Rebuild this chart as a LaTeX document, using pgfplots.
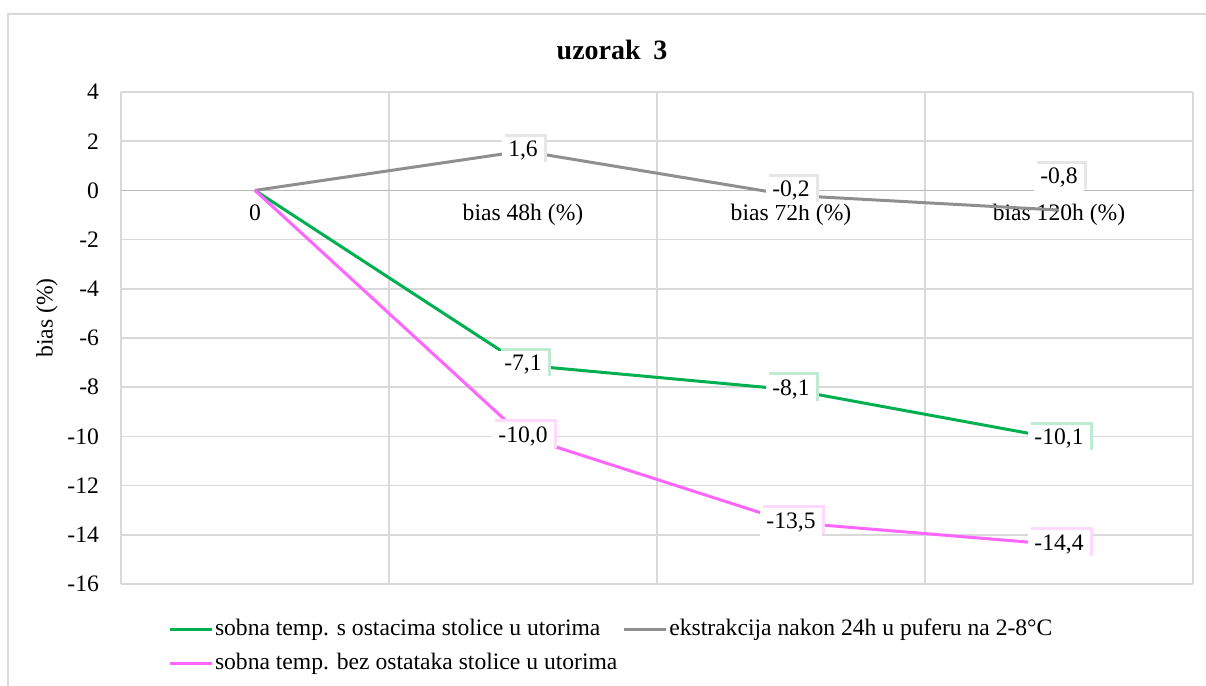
\documentclass[border=0pt]{standalone}
\usepackage{fontspec}
\setmainfont{Liberation Serif}
\usepackage{pgfplots}
\pgfplotsset{compat=1.18}
\usepackage{pgfplotstable}
\usetikzlibrary{shadows}
\definecolor{cgreen}{HTML}{00B050}
\definecolor{cgray}{HTML}{8F8F8F}
\definecolor{cpink}{HTML}{FF66FF}
\definecolor{cgrid}{HTML}{D9D9D9}

\pgfplotstableread{
x y dy
0 0 0
1 -7.1 0
2 -8.1 0
3 -10.1 0
}\greendata
\pgfplotstableread{
x y dy
0 0 0
1 1.6 0
2 -0.2 2.2
3 -0.8 16
}\graydata
\pgfplotstableread{
x y dy
0 0 0
1 -10.0 0
2 -13.5 0
3 -14.4 0
}\pinkdata

\newcommand\tw{\fontsize{11.8}{14}\selectfont}

\pgfplotsset{
  lab/.style={
    draw=none, mark=none, forget plot,
    skip coords between index={0}{1},
    visualization depends on={\thisrow{dy} \as \ldy},
    point meta=y,
    nodes near coords={\pgfmathprintnumber[fixed,fixed zerofill,precision=1,use comma]{\pgfplotspointmeta}},
    every node near coord/.style={anchor=center, yshift=\ldy pt, fill=white, font=\tw,
      inner xsep=3pt, inner ysep=2pt, text height=8pt, text depth=2.2pt,
      drop shadow={shadow xshift=1.5pt, shadow yshift=1.5pt, fill=#1, opacity=1}},
  }
}

\begin{document}
\begin{tikzpicture}
\useasboundingbox (0,0) rectangle (603pt,-343pt);
\draw[cgrid, line width=0.8pt] (4pt,-400pt) -- (4pt,-7pt) -- (700pt,-7pt);
\node[font=\fontsize{14}{16}\selectfont\bfseries] at (306pt,-25pt) {uzorak\hspace{0.45em}3};
\node[rotate=90, font=\tw] at (23.5pt,-159pt) {bias (\%)};
\begin{axis}[
  at={(60.5pt,-46pt)}, anchor=north west,
  width=536pt, height=246pt, scale only axis,
  xmin=-0.5, xmax=3.5, ymin=-16, ymax=4,
  axis x line=middle, axis y line=left, separate axis lines,
  x axis line style={-, draw=gray!55, line width=0.8pt},
  y axis line style={draw=none},
  xtick={0,1,2,3},
  xticklabels={0, bias 48h (\%), bias 72h (\%), bias 120h (\%)},
  minor xtick={-0.5,0.5,1.5,2.5,3.5},
  ytick={-16,-14,...,4},
  xminorgrids=true, ymajorgrids=true, xmajorgrids=false,
  grid style={cgrid, line width=0.8pt},
  minor grid style={cgrid, line width=0.8pt},
  major tick length=0pt, minor tick length=0pt,
  tick label style={font=\tw},
  /pgf/number format/assume math mode=true,
  xticklabel style={anchor=north, yshift=-3.5pt},
  yticklabel style={anchor=east, xshift=-7.5pt},
  legend columns=2,
  legend cell align=left,
  legend style={at={(rel axis cs:0,0)}, anchor=north west, xshift=23.5pt, yshift=-15.5pt,
    draw=none, fill=none, inner sep=0pt, outer sep=0pt, font=\tw,
    nodes={inner sep=1pt, text height=9pt, text depth=3pt},
    /tikz/every even column/.append style={column sep=10pt}, row sep=3pt},
  legend image code/.code={\draw[#1] (0pt,0pt) -- (21pt,0pt);},
]
\addplot[cgreen, line width=1.5pt, mark=none] table[x=x, y=y] {\greendata};
\addlegendentry{sobna temp. s ostacima stolice u utorima}
\addplot[cgray, line width=1.5pt, mark=none] table[x=x, y=y] {\graydata};
\addlegendentry{ekstrakcija nakon 24h u puferu na 2-8°C}
\addplot[cpink, line width=1.5pt, mark=none] table[x=x, y=y] {\pinkdata};
\addlegendentry{\makebox[0pt][l]{sobna temp. bez ostataka stolice u utorima}}
\addplot[lab=cgreen!25] table[x=x, y=y] {\greendata};
\addplot[lab=cgray!22] table[x=x, y=y] {\graydata};
\addplot[lab=cpink!25] table[x=x, y=y] {\pinkdata};
\end{axis}
\end{tikzpicture}
\end{document}
